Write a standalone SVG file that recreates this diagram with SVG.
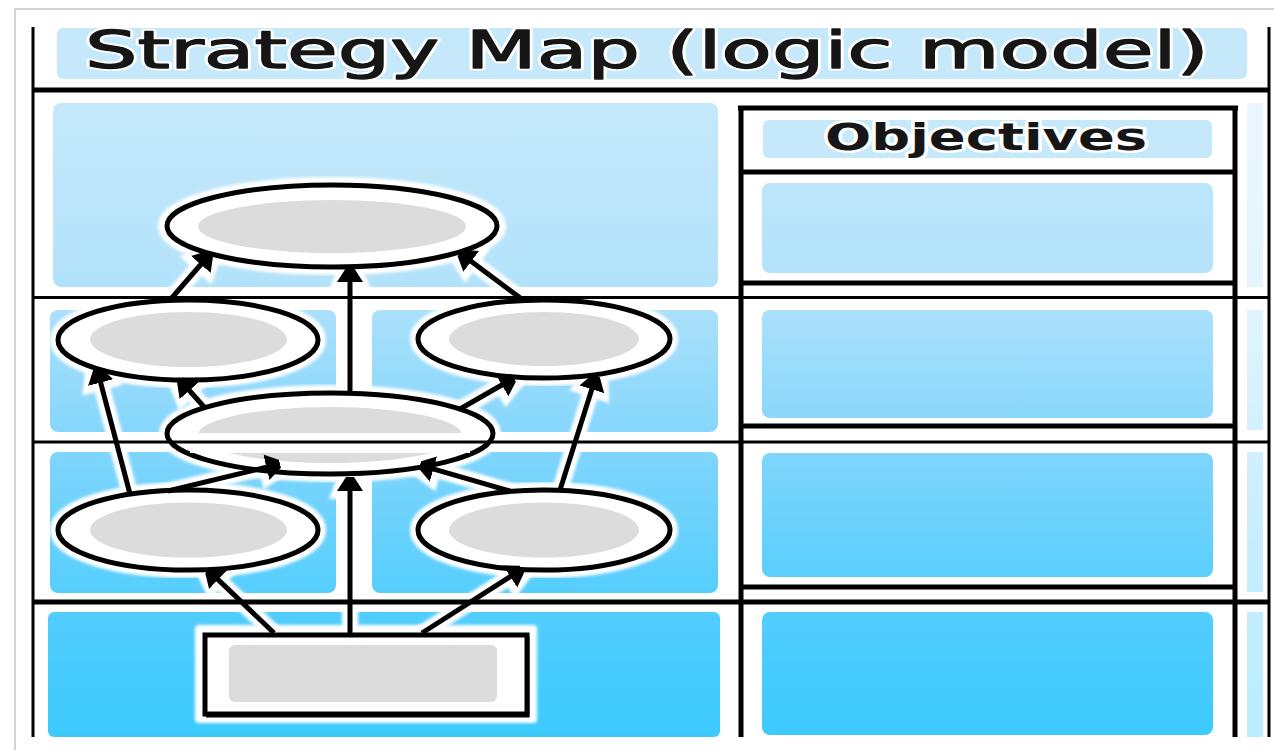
<svg xmlns="http://www.w3.org/2000/svg" width="1274" height="750" viewBox="0 0 1274 750">
<defs>
<linearGradient id="bg" gradientUnits="userSpaceOnUse" x1="0" y1="95" x2="0" y2="737">
<stop offset="0" stop-color="#c6e9fb"/>
<stop offset="0.3" stop-color="#b2e2fb"/>
<stop offset="0.53" stop-color="#84d6fc"/>
<stop offset="0.78" stop-color="#55cefd"/>
<stop offset="1" stop-color="#3ccafd"/>
</linearGradient>
<filter id="soft" x="-10%" y="-10%" width="120%" height="120%"><feGaussianBlur stdDeviation="1.5"/></filter>
<marker id="ah" markerUnits="userSpaceOnUse" viewBox="0 -14 14 28" markerWidth="14" markerHeight="28" refX="4" refY="0" orient="auto">
<polygon points="0,-13 14,-4 14,4 0,13" fill="#000"/>
</marker>
<marker id="ahh" markerUnits="userSpaceOnUse" viewBox="-8 -22 30 44" markerWidth="30" markerHeight="44" refX="4" refY="0" orient="auto">
<polygon points="-8,-21 21,-10 21,10 -8,21" fill="#fff"/>
</marker>
<style>
.cell{fill:url(#bg)}
.band{fill:#c5e9fa}
.halo{fill:#fff;stroke:#fff;stroke-width:16}
.node{fill:#fff;stroke:#000;stroke-width:5}
.inner{fill:#dcdcdc}
.grid{stroke:#000;stroke-width:3;fill:none}
.thick{stroke:#000;stroke-width:5;fill:none}
.conn{stroke:#000;stroke-width:5;fill:none;marker-end:url(#ah)}
.connhalo{stroke:#fff;stroke-width:16;fill:none;stroke-linecap:round;marker-end:url(#ahh)}
.lbl{font-family:"DejaVu Sans","Liberation Sans",sans-serif;fill:#161616;stroke:#fff;stroke-width:5;stroke-linejoin:round;paint-order:stroke}
.heavy{stroke:#161616;stroke-width:6.5;stroke-linejoin:round}
</style>
</defs>
<rect x="0" y="0" width="1274" height="750" fill="#fff"/>
<path d="M15,750 V9 H1274" fill="none" stroke="#d2d2d2" stroke-width="2"/>

<g id="backgrounds">
<rect class="band" x="57" y="28" width="1190" height="51" rx="6"/>
<rect class="cell" x="53" y="103" width="665" height="184" rx="8"/>
<rect class="cell" x="50" y="310" width="286" height="122" rx="8"/>
<rect class="cell" x="372" y="310" width="346" height="122" rx="8"/>
<rect class="cell" x="50" y="452" width="286" height="141" rx="8"/>
<rect class="cell" x="372" y="452" width="346" height="141" rx="8"/>
<rect class="cell" x="48" y="612" width="672" height="125" rx="6"/>
<rect class="band" x="763" y="120" width="449" height="38" rx="6"/>
<rect class="cell" x="762" y="183" width="451" height="90" rx="8"/>
<rect class="cell" x="762" y="310" width="451" height="108" rx="8"/>
<rect class="cell" x="762" y="453" width="451" height="124" rx="8"/>
<rect class="cell" x="762" y="612" width="451" height="123" rx="8"/>
<g opacity="0.35">
<rect class="cell" x="1247" y="103" width="16" height="184"/>
<rect class="cell" x="1247" y="310" width="16" height="120"/>
<rect class="cell" x="1247" y="452" width="16" height="140"/>
<rect class="cell" x="1247" y="612" width="16" height="125"/>
</g>
</g>

<g id="connector-halos" filter="url(#soft)">
<path class="connhalo" d="M274,633 L215.2,576.9"/>
<path class="connhalo" d="M350,633 L350,487"/>
<path class="connhalo" d="M422,633 L513.6,574.4"/>
<path class="connhalo" d="M130,494 L99.6,378.7"/>
<path class="connhalo" d="M168,491 L270.3,466.3"/>
<path class="connhalo" d="M510,491 L429.6,467.8"/>
<path class="connhalo" d="M560,490 L593,385.5"/>
<path class="connhalo" d="M205,408 L186.7,387.5"/>
<path class="connhalo" d="M460,409 L505.3,383"/>
<path class="connhalo" d="M350,393 L350,278"/>
<path class="connhalo" d="M170,300 L203.4,261.5"/>
<path class="connhalo" d="M523,300 L468,259"/>
</g>

<g id="node-top">
<ellipse class="halo" cx="332" cy="226" rx="166" ry="41" filter="url(#soft)"/>
<ellipse class="node" cx="332" cy="226" rx="165" ry="41"/>
<ellipse class="inner" cx="332" cy="226.5" rx="134" ry="26.5"/>
</g>
<g id="node-row2-left">
<ellipse class="halo" cx="188" cy="340" rx="130" ry="40" filter="url(#soft)"/>
<ellipse class="node" cx="188" cy="340" rx="130" ry="40"/>
<ellipse class="inner" cx="188.5" cy="339.5" rx="98.5" ry="27.5"/>
</g>
<g id="node-row2-right">
<ellipse class="halo" cx="544" cy="339" rx="126" ry="39" filter="url(#soft)"/>
<ellipse class="node" cx="544" cy="339" rx="126" ry="39"/>
<ellipse class="inner" cx="544" cy="339" rx="95" ry="27"/>
</g>
<g id="node-middle">
<ellipse class="halo" cx="330" cy="433.5" rx="163" ry="40.5" filter="url(#soft)"/>
<ellipse class="node" cx="330" cy="433.5" rx="163" ry="40.5"/>
<ellipse class="inner" cx="330" cy="435" rx="132" ry="28"/>
<rect x="190" y="433" width="280" height="20" fill="#fff"/>
</g>
<g id="node-row3-left">
<ellipse class="halo" cx="188" cy="530" rx="130" ry="40" filter="url(#soft)"/>
<ellipse class="node" cx="188" cy="530" rx="130" ry="40"/>
<ellipse class="inner" cx="188.5" cy="530" rx="98.5" ry="27.5"/>
</g>
<g id="node-row3-right">
<ellipse class="halo" cx="544" cy="530" rx="126" ry="40" filter="url(#soft)"/>
<ellipse class="node" cx="544" cy="530" rx="126" ry="40"/>
<ellipse class="inner" cx="544" cy="530" rx="95" ry="27.5"/>
</g>
<g id="node-base">
<rect x="195" y="625" width="342" height="98" rx="4" fill="#fff" filter="url(#soft)"/>
<rect x="205" y="635" width="322" height="79" fill="#fff" stroke="#000" stroke-width="5"/>
<path d="M528,636 V716 H206" fill="none" stroke="#000" stroke-width="3"/>
<rect class="inner" x="229" y="645" width="268" height="57" rx="6"/>
</g>

<g id="grid">
<path class="grid" d="M33,27 V737 M1269,27 V737"/>
<path class="thick" d="M33,90 H1269" stroke-width="4"/>
<path class="grid" d="M33,297.5 H1269 M33,442 H1269"/>
<path class="thick" d="M33,602 H1269" stroke-width="4"/>
</g>

<g id="objectives-panel">
<path class="thick" d="M741,108 V737 M1235,108 V737" stroke-width="6"/>
<path class="thick" d="M738,108 H1238 M741,172 H1235"/>
<path class="thick" d="M741,283 H1235 M741,426 H1235 M741,587 H1235" stroke-width="4"/>
<text class="lbl" transform="translate(825,150) scale(1.47,1)" x="0" y="0" font-size="37" font-weight="bold">Objectives</text>
</g>

<g id="connectors">
<path class="conn" d="M274,633 L215.2,576.9"/>
<path class="conn" d="M350,633 L350,487"/>
<path class="conn" d="M422,633 L513.6,574.4"/>
<path class="conn" d="M130,494 L99.6,378.7"/>
<path class="conn" d="M168,491 L270.3,466.3"/>
<path class="conn" d="M510,491 L429.6,467.8"/>
<path class="conn" d="M560,490 L593,385.5"/>
<path class="conn" d="M205,408 L186.7,387.5"/>
<path class="conn" d="M460,409 L505.3,383"/>
<path class="conn" d="M350,393 L350,278"/>
<path class="conn" d="M170,300 L203.4,261.5"/>
<path class="conn" d="M523,300 L468,259"/>
</g>

<g id="title" transform="translate(85,68) scale(1.59,1)">
<text class="lbl" x="0" y="0" font-size="52" stroke-width="7">Strategy Map (logic model)</text>
<text class="lbl heavy" x="0" y="0" font-size="52" stroke-width="1.3" style="stroke:#161616;stroke-width:1.3">Strategy Map (logic model)</text>
</g>
</svg>
